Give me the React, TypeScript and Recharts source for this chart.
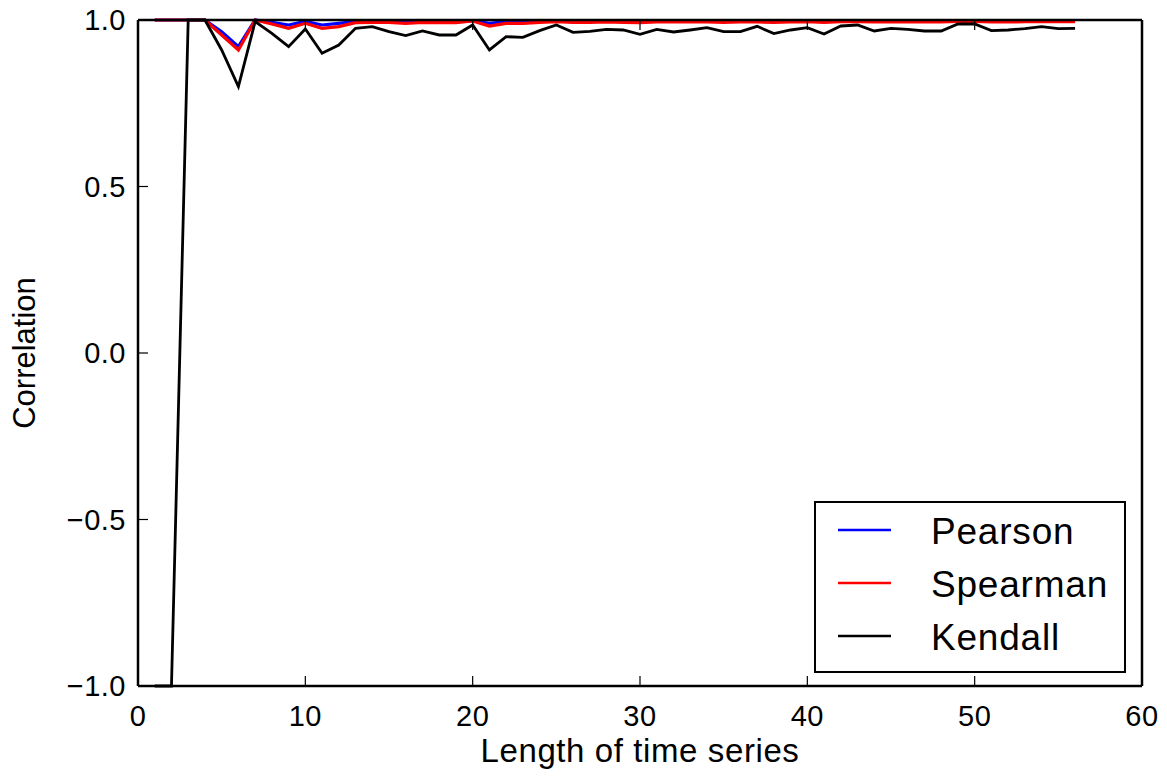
import React from 'react';
import { LineChart, Line, XAxis, YAxis, Legend } from 'recharts';

const lengths = [1,2,3,4,5,6,7,8,9,10,11,12,13,14,15,16,17,18,19,20,21,22,23,24,25,26,27,28,29,30,31,32,33,34,35,36,37,38,39,40,41,42,43,44,45,46,47,48,49,50,51,52,53,54,55,56];

const pearson = [1,1,1,1,0.965,0.92,1,0.993,0.985,0.996,0.985,0.99,0.996,0.997,0.997,0.996,0.997,0.997,0.997,0.998,0.99,0.995,0.996,0.997,0.998,0.997,0.997,0.998,0.997,0.997,0.998,0.998,0.998,0.998,0.997,0.998,0.998,0.997,0.998,0.998,0.997,0.998,0.998,0.998,0.998,0.998,0.998,0.998,0.998,0.998,0.998,0.998,0.998,0.998,0.998,0.998];

const spearman = [1,1,1,1,0.955,0.91,1,0.988,0.975,0.99,0.975,0.98,0.992,0.993,0.993,0.99,0.993,0.992,0.992,0.997,0.982,0.99,0.99,0.993,0.995,0.993,0.993,0.994,0.993,0.992,0.994,0.994,0.994,0.994,0.993,0.994,0.994,0.993,0.994,0.995,0.993,0.995,0.995,0.994,0.995,0.994,0.994,0.994,0.996,0.996,0.994,0.994,0.995,0.995,0.995,0.995];

const kendall = [-1,-1,1,1,0.91,0.8,0.995,0.96,0.92,0.973,0.9,0.925,0.975,0.98,0.965,0.953,0.967,0.955,0.955,0.985,0.91,0.95,0.948,0.968,0.985,0.963,0.966,0.972,0.97,0.957,0.972,0.964,0.97,0.977,0.965,0.965,0.981,0.959,0.97,0.977,0.958,0.982,0.985,0.967,0.975,0.972,0.967,0.967,0.988,0.988,0.968,0.97,0.974,0.98,0.974,0.975];

const xTicks = [0, 10, 20, 30, 40, 50, 60];
const yTicks = [-1.0, -0.5, 0.0, 0.5, 1.0];

const seriesNames = ['Pearson', 'Spearman', 'Kendall'];
const seriesColors = ['#0000ff', '#ff0000', '#000000'];

const data = lengths.map((n, i) => ({
  n,
  Pearson: pearson[i],
  Spearman: spearman[i],
  Kendall: kendall[i],
}));

const FONT = '"Liberation Sans", Arial, Helvetica, sans-serif';
const TICK_LEN = 10;

const fmtY = (v: number) => (v < 0 ? '\u2212' : '') + Math.abs(v).toFixed(1);

const BottomTick = (props: any) => {
  const { x, y, payload } = props;
  return (
    <g>
      <line x1={x} y1={y} x2={x} y2={y - TICK_LEN} stroke="#000" strokeWidth={1.2} />
      <text x={x} y={y + 40} textAnchor="middle" fontFamily={FONT} fontSize={29} letterSpacing={0.5} fill="#000">
        {payload.value}
      </text>
    </g>
  );
};

const TopTick = (props: any) => {
  const { x, y } = props;
  return <line x1={x} y1={y} x2={x} y2={y + TICK_LEN} stroke="#000" strokeWidth={1.2} />;
};

const LeftTick = (props: any) => {
  const { x, y, payload } = props;
  return (
    <g>
      <line x1={x} y1={y} x2={x + TICK_LEN} y2={y} stroke="#000" strokeWidth={1.2} />
      <text x={x - 12} y={y + 10} textAnchor="end" fontFamily={FONT} fontSize={29} letterSpacing={0.5} fill="#000">
        {fmtY(payload.value)}
      </text>
    </g>
  );
};

const RightTick = (props: any) => {
  const { x, y } = props;
  return <line x1={x} y1={y} x2={x - TICK_LEN} y2={y} stroke="#000" strokeWidth={1.2} />;
};

const XLabel = (props: any) => {
  const vb = props.viewBox;
  return (
    <text x={vb.x + vb.width / 2} y={vb.y + 76} textAnchor="middle" fontFamily={FONT} fontSize={33} letterSpacing={0.6} fill="#000">
      Length of time series
    </text>
  );
};

const YLabel = (props: any) => {
  const vb = props.viewBox;
  const cy = vb.y + vb.height / 2;
  return (
    <text x={35} y={cy} transform={`rotate(-90 35 ${cy})`} textAnchor="middle" fontFamily={FONT} fontSize={31} fill="#000">
      Correlation
    </text>
  );
};

const LegendBox = () => (
  <svg width={312} height={172} style={{ display: 'block' }}>
    <rect x={1} y={1} width={310} height={170} fill="#fff" stroke="#000" strokeWidth={2} />
    {seriesNames.map((name, i) => {
      const cy = 29 + i * 53;
      return (
        <g key={name}>
          <line x1={24} y1={cy} x2={77} y2={cy} stroke={seriesColors[i]} strokeWidth={2.5} />
          <text x={117} y={cy + 14} fontFamily={FONT} fontSize={37} letterSpacing={0.8} fill="#000">
            {name}
          </text>
        </g>
      );
    })}
  </svg>
);

export default function App() {
  return (
    <div style={{ position: 'absolute', left: 0, top: 0, width: 1167, height: 777, background: '#fff' }}>
      <LineChart width={1167} height={777} data={data} margin={{ top: 0, right: 0, bottom: 0, left: 0 }}>
        <XAxis
          xAxisId="bottom"
          dataKey="n"
          type="number"
          domain={[0, 60]}
          ticks={xTicks}
          orientation="bottom"
          height={91}
          tickSize={0}
          tickMargin={0}
          tickLine={false}
          axisLine={{ stroke: '#000', strokeWidth: 2.5 }}
          tick={<BottomTick />}
          interval={0}
          label={XLabel}
        />
        <XAxis
          xAxisId="top"
          dataKey="n"
          type="number"
          domain={[0, 60]}
          ticks={xTicks}
          orientation="top"
          height={20}
          tickSize={0}
          tickMargin={0}
          tickLine={false}
          axisLine={{ stroke: '#000', strokeWidth: 2.5 }}
          tick={<TopTick />}
          interval={0}
        />
        <YAxis
          yAxisId="left"
          type="number"
          domain={[-1, 1]}
          ticks={yTicks}
          orientation="left"
          width={138}
          tickSize={0}
          tickMargin={0}
          tickLine={false}
          axisLine={{ stroke: '#000', strokeWidth: 2.5 }}
          tick={<LeftTick />}
          interval={0}
          label={YLabel}
        />
        <YAxis
          yAxisId="right"
          type="number"
          domain={[-1, 1]}
          ticks={yTicks}
          orientation="right"
          width={25}
          tickSize={0}
          tickMargin={0}
          tickLine={false}
          axisLine={{ stroke: '#000', strokeWidth: 2.5 }}
          tick={<RightTick />}
          interval={0}
        />
        {seriesNames.map((name, i) => (
          <Line
            key={name}
            xAxisId="bottom"
            yAxisId="left"
            type="linear"
            dataKey={name}
            stroke={seriesColors[i]}
            strokeWidth={i === 2 ? 2.8 : 3.2}
            dot={false}
            isAnimationActive={false}
          />
        ))}
        <Legend
          layout="horizontal"
          verticalAlign="middle"
          align="center"
          content={<LegendBox />}
          wrapperStyle={{ position: 'absolute', left: 814, top: 501, width: 312, height: 172 }}
        />
      </LineChart>
    </div>
  );
}
